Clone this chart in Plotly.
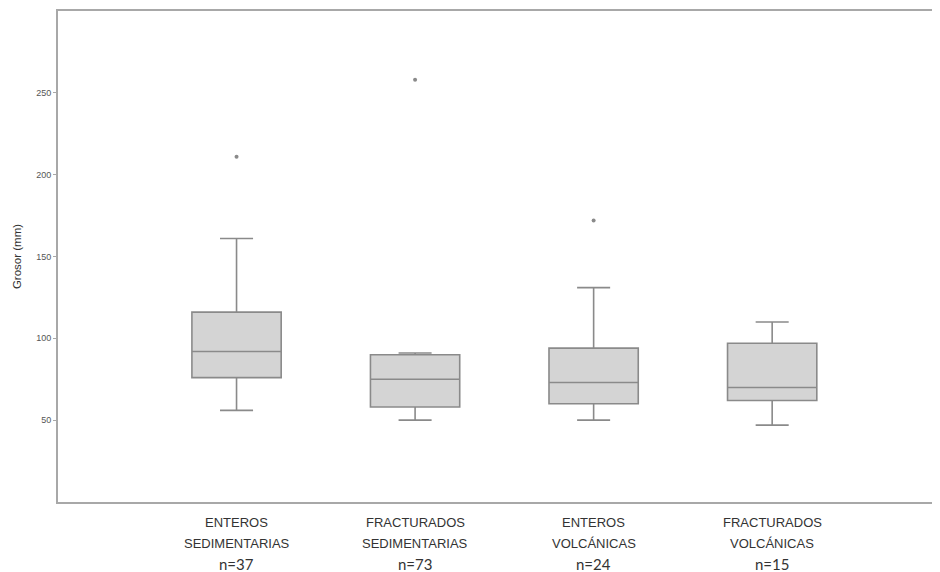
import plotly.graph_objects as go

categories = ["ENTEROS SEDIMENTARIAS", "FRACTURADOS SEDIMENTARIAS", "ENTEROS VOLCÁNICAS", "FRACTURADOS VOLCÁNICAS"]
label_line1 = ["ENTEROS", "FRACTURADOS", "ENTEROS", "FRACTURADOS"]
label_line2 = ["SEDIMENTARIAS", "SEDIMENTARIAS", "VOLCÁNICAS", "VOLCÁNICAS"]
n_labels = ["n=37", "n=73", "n=24", "n=15"]

q1 = [76, 58, 60, 62]
median = [92, 75, 73, 70]
q3 = [116, 90, 94, 97]
lower_whisker = [56, 50, 50, 47]
upper_whisker = [161, 91, 131, 110]

outlier_cats = ["ENTEROS SEDIMENTARIAS", "FRACTURADOS SEDIMENTARIAS", "ENTEROS VOLCÁNICAS"]
outlier_vals = [211, 258, 172]

y_ticks = [50, 100, 150, 200, 250]

fig = go.Figure()
fig.add_trace(go.Box(
    x=categories, q1=q1, median=median, q3=q3,
    lowerfence=lower_whisker, upperfence=upper_whisker,
    fillcolor="#d4d4d4", line=dict(color="#8a8a8a", width=1.6),
    width=0.5, whiskerwidth=0.37, boxpoints=False, showlegend=False,
))
fig.add_trace(go.Scatter(
    x=outlier_cats, y=outlier_vals, mode="markers",
    marker=dict(color="#8a8a8a", size=4), showlegend=False,
))

label_font = dict(family="Liberation Sans Narrow, Arial Narrow, Liberation Sans, Arial", size=13, color="#333333")
n_font = dict(family="Lato, Carlito, Calibri, sans-serif", size=15, color="#333333")
for cat, l1, l2, n in zip(categories, label_line1, label_line2, n_labels):
    for text, shift, font in ((l1, -20, label_font), (l2, -41, label_font), (n, -62, n_font)):
        fig.add_annotation(x=cat, y=0, xref="x", yref="paper", yshift=shift,
                           text=text, showarrow=False, font=font,
                           xanchor="center", yanchor="middle")

fig.update_layout(
    width=932, height=564,
    margin=dict(l=50, r=0, t=3, b=70),
    paper_bgcolor="white", plot_bgcolor="white",
    xaxis=dict(type="category", categoryorder="array", categoryarray=categories,
               range=[-1.0, 3.94], showticklabels=False, ticks="",
               showline=True, linecolor="#a8a8a8", linewidth=2, mirror=True,
               showgrid=False, zeroline=False),
    yaxis=dict(range=[0, 300], tickvals=y_ticks, ticks="outside", ticklen=3,
               tickcolor="#a8a8a8", tickfont=dict(family="Liberation Sans, Arial", size=9, color="#555555"),
               showline=True, linecolor="#a8a8a8", linewidth=2,
               showgrid=False, zeroline=False,
               title=dict(text="Grosor (mm)", font=dict(family="Liberation Sans, Arial", size=11.5, color="#333333"), standoff=12)),
)

fig.write_html("out.html")
